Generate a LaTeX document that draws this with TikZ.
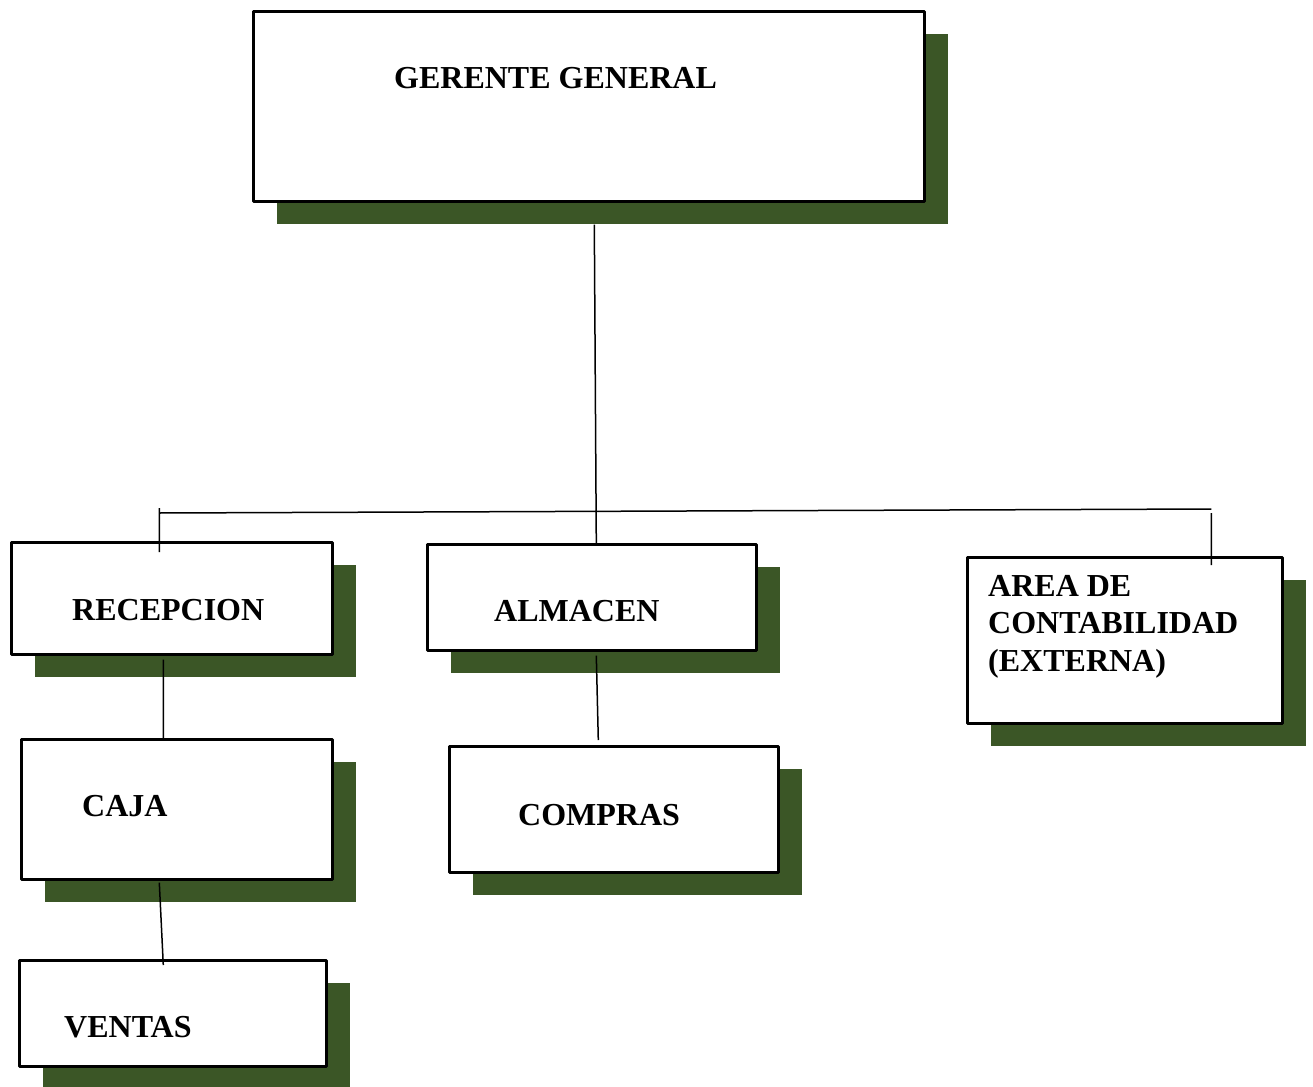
\documentclass[tikz,border=0pt]{standalone}
\usepackage{fontspec}
\setmainfont{Liberation Serif}
\usetikzlibrary{shadows}
\definecolor{verdesombra}{RGB}{59,86,38}
\begin{document}
\begin{tikzpicture}[x=1pt, y=-1pt, line join=round,
	cuadro/.style={draw, fill=white, line width=2.6pt, inner sep=0pt, anchor=north west,
		general shadow={fill=verdesombra, shadow xshift=24pt, shadow yshift=-23pt}},
	rotulo/.style={anchor=base west, inner sep=0pt, align=left,
		font=\fontsize{32}{37.5}\selectfont\bfseries},
	linea/.style={line width=1.5pt}]
	\useasboundingbox (0,0) rectangle (1313,1086);
	\foreach \n/\x/\y/\w/\h in {gg/252/10/671/190, recepcion/10/541/321/112, almacen/426/543/329/106,
		contab/966/556/315/166, caja/20/738/311/140, compras/448/745/329/126, ventas/18/959/307/106}{
		\node[cuadro, minimum width=\w pt, minimum height=\h pt] (\n) at (\x,\y) {};
	}
	\node[rotulo] (t-gg) at (394,89) {GERENTE GENERAL};
	\node[rotulo] (t-recepcion) at (72,620) {RECEPCION};
	\node[rotulo] (t-almacen) at (494,621) {ALMACEN};
	\node[rotulo] (t-contab) at (988,671) {AREA DE\\CONTABILIDAD\\(EXTERNA)};
	\node[rotulo] (t-caja) at (82,816) {CAJA};
	\node[rotulo] (t-compras) at (518,825) {COMPRAS};
	\node[rotulo] (t-ventas) at (64,1037) {VENTAS};
	\draw[linea]
	([xshift=5.5pt, yshift=-22pt]gg.south) -- ([xshift=4.5pt]almacen.north)
	([xshift=-12.5pt, yshift=28pt]recepcion.north) -- ([xshift=86.5pt, yshift=47pt]contab.north)
	([xshift=-12.5pt, yshift=33pt]recepcion.north) -- ([xshift=-12.5pt, yshift=-11pt]recepcion.north)
	([xshift=86.5pt, yshift=43pt]contab.north) -- ([xshift=86.5pt, yshift=-9pt]contab.north)
	([xshift=-8.5pt, yshift=-4pt]recepcion.south) -- ([xshift=-13.5pt]caja.north)
	([xshift=4.5pt, yshift=-4pt]almacen.south) -- ([xshift=-15.5pt, yshift=5pt]compras.north)
	([xshift=-17.5pt, yshift=-2pt]caja.south) -- ([xshift=-9.5pt, yshift=-6pt]ventas.north)
	;
\end{tikzpicture}
\end{document}
